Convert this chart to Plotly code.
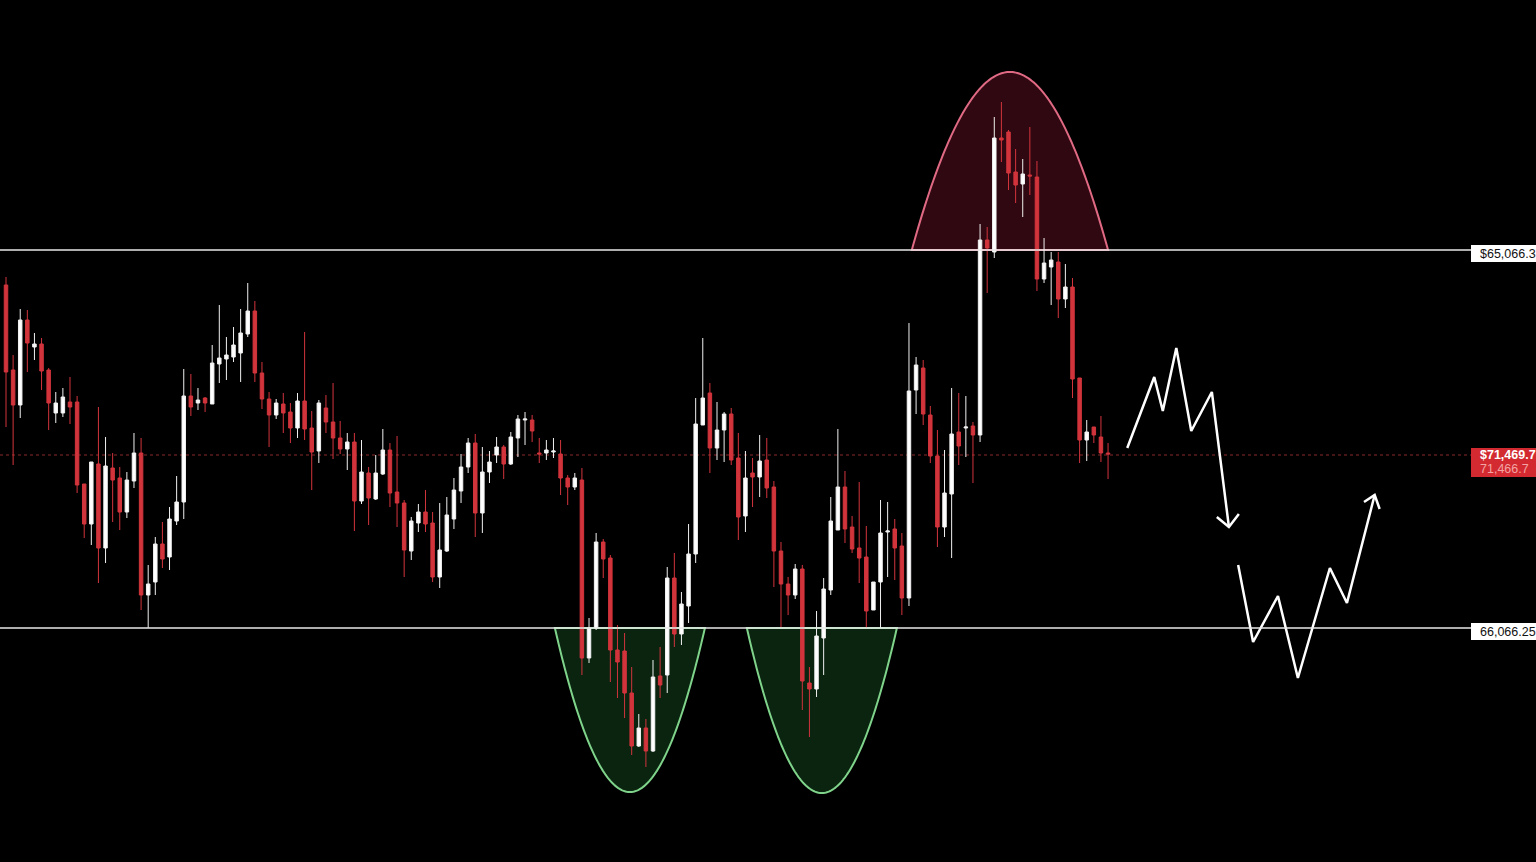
import numpy as np
import plotly.graph_objects as go

# ---------------- data ----------------
open_ = [67150,66300,65950,66800,66530,66560,66300,65870,65870,65980,
         65980,65160,64760,65360,64520,65320,65220,64880,65190,65470,
         64050,64180,64560,64430,64790,64980,66040,65970,66020,65960,
         66360,66410,66430,66470,66660,66890,66270,66010,65850,65960,
         65880,65720,65990,65720,65490,65920,65780,65620,65510,65580,
         64990,65270,65010,65260,65500,65080,64970,64490,64770,64880,
         64770,64230,64490,64810,65090,65330,65570,64870,65280,65450,
         65530,65360,65620,65800,65800,65470,65470,65480,65460,65220,
         65130,65200,63420,63720,64580,64420,63500,63490,63070,62540,
         62720,62490,63240,63250,64220,63660,63940,64460,65750,66070,
         65520,65700,65860,65420,64840,65270,65230,65400,65130,64490,
         64160,64050,64310,63170,63110,63620,64100,64700,65130,64730,
         64520,64430,63900,64180,64680,64710,64540,64020,66100,66320,
         65850,65440,64730,65060,65680,65720,65740,65650,67600,67480,
         68620,68680,68280,68160,68250,68230,67210,67330,67380,67010,
         67130,66220,65600,65730,65630,65470]
high = [67230,66450,66910,66900,66670,66620,66320,66080,66120,66230,
        66040,65160,65380,65930,65630,65470,65330,65280,65670,65620,
        64350,64630,64780,64930,65240,66310,66260,66120,66030,66550,
        66950,66630,66730,66910,67170,66990,66380,66080,66010,66070,
        65970,66070,66680,65890,66000,66050,66170,65790,65670,65670,
        65600,65330,65450,65710,65570,65640,65000,64830,64960,65100,
        64880,64970,65030,65220,65460,65620,65660,65530,65490,65630,
        65550,65680,65850,65880,65850,65620,65600,65620,65600,65250,
        65270,65320,63820,64670,64610,64450,63750,63670,63330,62860,
        62810,63400,63530,64330,64470,64080,64760,66020,66620,66170,
        65980,65880,65920,65670,65490,65420,65650,65620,65190,64580,
        64230,64360,64350,63330,63890,64220,65030,65710,65290,64840,
        65180,64740,64180,65000,64980,64810,64670,66770,66430,66400,
        65940,65700,65500,66120,66070,66040,65780,67760,67730,68830,
        68980,68700,68510,68410,68730,68390,67620,67480,67480,67360,
        67220,66220,65800,65730,65840,65570]
low = [65730,65350,65820,66280,66400,66100,65700,65770,65830,65760,
       65070,64620,64550,64170,64370,64780,64700,64820,65120,63900,
       63720,64050,64320,64300,64750,64810,65840,65900,65880,65960,
       66170,66200,66380,66180,66630,66180,65910,65530,65810,65670,
       65570,65620,65600,65100,65370,65670,65410,65460,65300,64690,
       64960,64750,65000,65250,64930,64730,64230,64400,64680,64680,
       64180,64120,64480,64710,64970,65270,64630,64670,65170,65370,
       65210,65350,65430,65550,65580,65370,65400,65420,65050,64950,
       65100,63250,63370,63700,64220,63180,63020,62820,62450,62530,
       62330,62480,63020,63070,63530,63550,63770,64370,65750,65270,
       65400,65380,65350,64600,64680,64930,65030,65020,64130,63730,
       63850,64010,62900,62630,63030,63250,64050,64700,64570,64470,
       64170,63720,63900,63720,64230,64200,63850,63940,65860,65750,
       65370,64530,64630,64420,65350,65430,65170,65580,67070,67420,
       68380,68100,67970,67830,68050,67090,67170,66950,66820,66920,
       66020,65370,65390,65570,65380,65210]
close = [66280,65950,66800,66570,66560,66290,65970,65970,66030,65930,
         65150,64760,65380,64520,65340,65200,64880,65200,65470,64050,
         64160,64560,64410,64810,64980,66040,65930,66000,65970,66370,
         66420,66450,66550,66670,66890,66270,66010,65850,65970,65870,
         65720,65990,65710,65480,65970,65780,65620,65510,65580,64990,
         65280,65020,65270,65500,65070,64970,64500,64790,64880,64760,
         64230,64500,64850,65100,65330,65570,64870,65280,65380,65530,
         65360,65630,65810,65810,65690,65460,65500,65490,65220,65130,
         65220,63420,63720,64580,64410,63500,63380,63070,62540,62720,
         62490,63230,63150,64220,63660,63960,64460,65760,66020,65520,
         65700,65860,65400,64830,65220,65230,65390,65120,64490,64160,
         64050,64310,63190,63110,63640,64110,64790,65130,64710,64510,
         64420,63890,64180,64670,64690,64520,64020,66090,66350,65860,
         65440,64730,65070,65660,65540,65730,65650,67600,67520,68620,
         68600,68270,68150,68260,68240,67210,67370,67400,67010,67130,
         66210,65600,65680,65650,65470,65460]
bars = list(range(len(close)))

resistance_level = 67500
support_level = 63720
last_price_level = 65450
resistance_label = "$65,066.3"
support_label = "66,066.25"
last_label_1 = "$71,469.7"
last_label_2 = "71,466.7"

# highlighted zones: (start bar, end bar, base price, extreme price)
top_zone = (127.4, 155.0, 67500, 69280)
bottom_zones = [(77.2, 98.3, 63720, 62080), (104.2, 125.3, 63720, 62070)]

# projected path drawn to the right of the candles (bar, price)
proj1_x = [157.7, 161.5, 162.7, 164.6, 166.7, 169.6, 172.0]
proj1_y = [65520, 66230, 65890, 66520, 65690, 66080, 64730]
proj1_head_x = [170.3, 172.0, 173.4]
proj1_head_y = [64830, 64730, 64860]
proj2_x = [173.3, 175.4, 178.9, 181.7, 186.2, 188.6, 192.5]
proj2_y = [64350, 63580, 64040, 63220, 64320, 63970, 65050]
proj2_head_x = [191.0, 192.5, 193.2]
proj2_head_y = [64980, 65050, 64910]

# ---------------- figure ----------------
fig = go.Figure()

def arc_path(z, n=120):
    x0, x1, base, ext = z
    xs = np.linspace(x0, x1, n)
    c = (x0 + x1) / 2
    h = (x1 - x0) / 2
    ys = base + (ext - base) * (1 - ((xs - c) / h) ** 2)
    pts = " L ".join(f"{a:.4f},{b:.2f}" for a, b in zip(xs, ys))
    return "M " + pts + " Z"

fig.add_shape(type="path", xref="x", yref="y", path=arc_path(top_zone),
              fillcolor="rgba(125,20,45,0.38)", line=dict(color="#e06a84", width=2),
              layer="below")
for z in bottom_zones:
    fig.add_shape(type="path", xref="x", yref="y", path=arc_path(z),
                  fillcolor="rgba(30,110,50,0.33)", line=dict(color="#7fd38a", width=2),
                  layer="below")

label_x = 1471 / 1536
fig.add_shape(type="line", xref="paper", yref="y", x0=0, x1=label_x,
              y0=last_price_level, y1=last_price_level,
              line=dict(color="#8a2a2a", width=1, dash="dot"), layer="below")

fig.add_trace(go.Candlestick(
    x=bars, open=open_, high=high, low=low, close=close,
    increasing=dict(line=dict(color="#f0f0f0", width=1), fillcolor="#ffffff"),
    decreasing=dict(line=dict(color="#d2343c", width=1), fillcolor="#d2343c"),
    whiskerwidth=0, showlegend=False, hoverinfo="skip"))

for px_, py_, hx, hy in [(proj1_x, proj1_y, proj1_head_x, proj1_head_y),
                         (proj2_x, proj2_y, proj2_head_x, proj2_head_y)]:
    fig.add_trace(go.Scatter(x=px_, y=py_, mode="lines",
                             line=dict(color="white", width=2.5),
                             hoverinfo="skip", showlegend=False))
    fig.add_trace(go.Scatter(x=hx, y=hy, mode="lines",
                             line=dict(color="white", width=2.5),
                             hoverinfo="skip", showlegend=False))

for lvl in (resistance_level, support_level):
    fig.add_shape(type="line", xref="paper", yref="y", x0=0, x1=label_x,
                  y0=lvl, y1=lvl, line=dict(color="#e8e8e8", width=1.5), layer="above")

font = "Liberation Sans, Arial, sans-serif"
text_x = 1478 / 1536
for lvl, txt in ((resistance_level, resistance_label), (support_level, support_label)):
    fig.add_shape(type="rect", xref="paper", yref="y", x0=label_x, x1=1.0,
                  y0=lvl + 50, y1=lvl - 120, fillcolor="#ffffff",
                  line=dict(width=0), layer="above")
    fig.add_annotation(xref="paper", yref="y", x=text_x, y=lvl - 35, xanchor="left",
                       yanchor="middle", text=txt, showarrow=False,
                       font=dict(family=font, size=12.5, color="#111111"))

fig.add_shape(type="rect", xref="paper", yref="y", x0=label_x, x1=1.0,
              y0=last_price_level + 70, y1=last_price_level - 220,
              fillcolor="#d22a30", line=dict(width=0), layer="above")
fig.add_annotation(xref="paper", yref="y", x=text_x, y=last_price_level,
                   xanchor="left", yanchor="middle", text=f"<b>{last_label_1}</b>",
                   showarrow=False, font=dict(family=font, size=12.5, color="#ffffff"))
fig.add_annotation(xref="paper", yref="y", x=text_x, y=last_price_level - 140,
                   xanchor="left", yanchor="middle", text=last_label_2,
                   showarrow=False, font=dict(family=font, size=12.5, color="#f2a4a4"))

fig.update_layout(
    width=1536, height=862,
    margin=dict(l=0, r=0, t=0, b=0),
    paper_bgcolor="#000000", plot_bgcolor="#000000",
    xaxis=dict(range=[-0.844, 215.19], showgrid=False, zeroline=False,
               showticklabels=False, rangeslider=dict(visible=False), fixedrange=True),
    yaxis=dict(range=[61380, 70000], showgrid=False, zeroline=False,
               showticklabels=False, fixedrange=True),
    showlegend=False,
)

fig.write_html("out.html", config={"displayModeBar": False},
               post_script="document.body.style.margin='0';document.body.style.overflow='hidden';")
